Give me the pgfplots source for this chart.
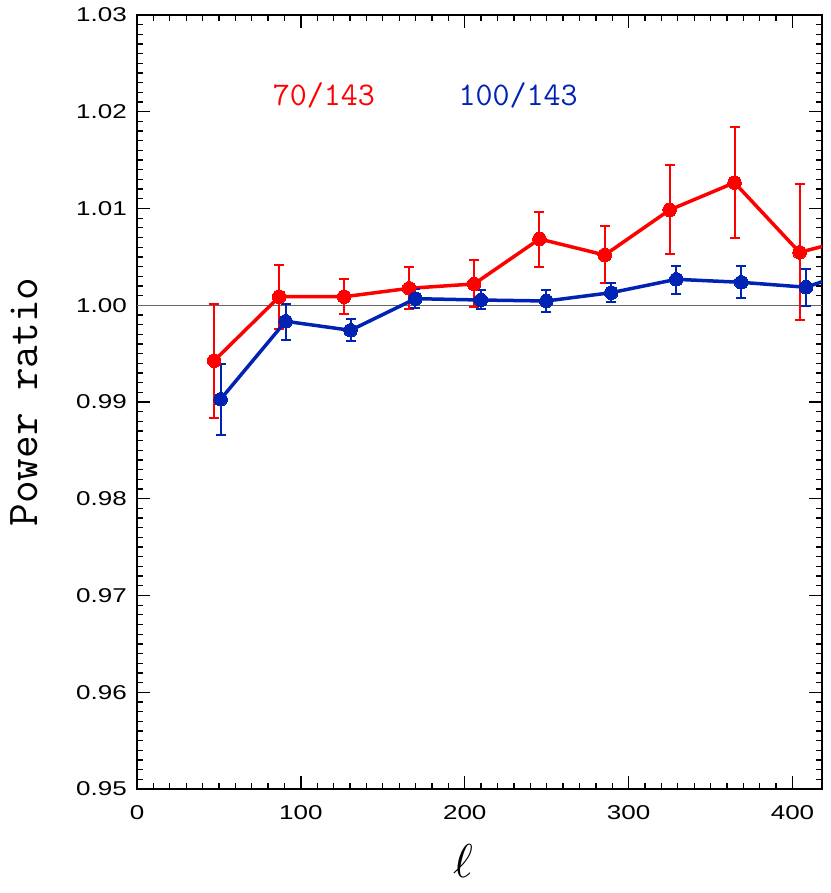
\documentclass[border=0pt]{standalone}
\usepackage{fontspec}
\usepackage{pgfplots}
\pgfplotsset{compat=1.18}
\usepackage{pgfplotstable}
\usepackage{graphicx}
\newfontfamily\hsans[FakeStretch=1.3]{Liberation Sans}
\definecolor{pr}{RGB}{255,0,0}
\definecolor{pb}{RGB}{0,35,180}

\pgfplotstableread{
x y ep em
47.1 0.99427 0.00583 0.00589
86.8 1.00088 0.00328 0.00330
126.4 1.00088 0.00180 0.00182
166.1 1.00175 0.00217 0.00217
205.7 1.00220 0.00245 0.00240
245.6 1.00685 0.00282 0.00287
285.4 1.00519 0.00300 0.00292
325.0 1.00985 0.00465 0.00458
364.6 1.01267 0.00575 0.00575
404.3 1.00547 0.00706 0.00699
444.0 1.00720 0.00800 0.00800
}\redtab

\pgfplotstableread{
x y ep em
51.0 0.99028 0.00368 0.00372
90.7 0.99834 0.00184 0.00196
130.3 0.99741 0.00114 0.00107
169.9 1.00068 0.00100 0.00100
209.8 1.00054 0.00104 0.00096
249.8 1.00044 0.00118 0.00117
289.4 1.00130 0.00103 0.00100
329.1 1.00268 0.00141 0.00148
368.7 1.00237 0.00172 0.00165
408.3 1.00186 0.00189 0.00189
448.0 1.00420 0.00200 0.00200
}\bluetab

\begin{document}
\begin{tikzpicture}
\begin{axis}[
  width=685pt, height=774pt, scale only axis,
  xmin=0, xmax=418, ymin=0.95, ymax=1.03,
  xtick={0,100,200,300,400},
  ytick={0.95,0.96,0.97,0.98,0.99,1.00,1.01,1.02,1.03},
  minor x tick num=9, minor y tick num=9,
  tick align=inside,
  major tick length=13pt, minor tick length=6pt,
  axis line style={line width=1.6pt},
  every tick/.style={black, line width=1.3pt},
  /pgf/number format/assume math mode=true,
  tick label style={font=\hsans\fontsize{20}{24}\selectfont},
  yticklabel style={/pgf/number format/fixed, /pgf/number format/fixed zerofill, /pgf/number format/precision=2, inner sep=0pt, anchor=east, xshift=-10pt},
  xticklabel style={inner sep=0pt, anchor=north, yshift=-16pt},
  scaled y ticks=false,
]
\addplot[gray!80!black, line width=0.8pt, forget plot] coordinates {(0,1) (418,1)};

\addplot[pr, line width=3.5pt, mark=*, mark size=6.8pt, mark options={solid, fill=pr, draw=pr, line width=0pt},
  error bars/.cd, y dir=both, y explicit,
  error bar style={line width=2pt},
  error mark options={rotate=90, mark size=5pt, line width=2pt, pr}]
  table[x=x, y=y, y error plus=ep, y error minus=em] {\redtab};

\addplot[pb, line width=3.5pt, mark=*, mark size=6.8pt, mark options={solid, fill=pb, draw=pb, line width=0pt},
  error bars/.cd, y dir=both, y explicit,
  error bar style={line width=2pt},
  error mark options={rotate=90, mark size=5pt, line width=2pt, pb}]
  table[x=x, y=y, y error plus=ep, y error minus=em] {\bluetab};

\node[pr, font=\ttfamily\fontsize{33}{38}\selectfont, anchor=center] at (axis cs:114,1.0217) {70/143};
\node[pb, font=\ttfamily\fontsize{33}{38}\selectfont, anchor=center] at (axis cs:232.6,1.0217) {100/143};

\coordinate (sw) at (rel axis cs:0,0);
\coordinate (ne) at (rel axis cs:1,1);
\coordinate (ml) at (rel axis cs:0,0.5);
\coordinate (bx) at (rel axis cs:0.476,0);
\end{axis}
\node[rotate=90, anchor=center, inner sep=0pt, font=\ttfamily\fontsize{44}{48}\selectfont] at ([xshift=-113pt]ml) {Power ratio};
\node[anchor=center, inner sep=0pt] at ([yshift=-72pt]bx) {\scalebox{4.75}{$\ell$}};
\path (sw) ++(-137pt,-104pt);
\path (ne) ++(8pt,15pt);
\end{tikzpicture}
\end{document}
